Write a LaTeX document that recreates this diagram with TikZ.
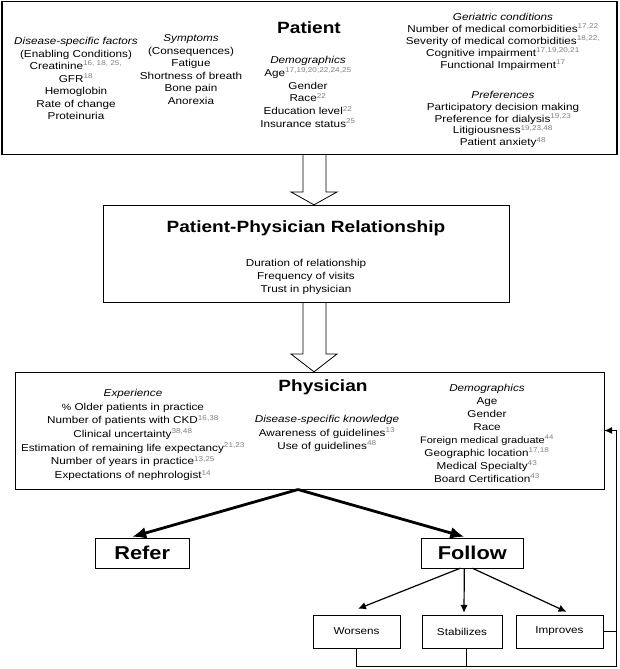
\documentclass[tikz,border=0pt]{standalone}
\usepackage{fontspec}
\setmainfont{Liberation Sans}[FakeStretch=1.17]
\usetikzlibrary{arrows.meta}
\usetikzlibrary{calc}
\tikzset{box/.style = {draw, rectangle, inner sep = 0}}
\tikzset{col/.style = {align = center, inner sep = 0, font = \fontsize{10}{#1}\selectfont},
         col/.default = 12.5}
\tikzset{title/.style = {inner sep = 0, font = \fontsize{16.3}{19}\selectfont\bfseries}}
\tikzset{hollow/.style = {line width = 0.8, line join = miter}}
\tikzset{fat/.style = {line width = 2.8, -{Latex[length=14pt, width=12pt]}}}
\tikzset{branch/.style = {line width = 1.2, -{Latex[length=8pt, width=7.5pt]}}}
\tikzset{back/.style = {line width = 1, -{Latex[length=8pt, width=7pt]}}}
\newcommand{\supref}[1]{\textsuperscript{\color{gray}#1}}

\begin{document}
\begin{tikzpicture}[x=1pt, y=-1pt]
  \useasboundingbox (0,0) rectangle (619,669);

  \node [box, line width=1.3, minimum width=615, minimum height=153] (patient) at (309.5,78) {};
  \node [title] (patienttitle) at (309,28) {Patient};
  \node [col] (factors) at (76,78.5) {\textit{Disease-specific factors}\\(Enabling Conditions)\\
    Creatinine\supref{16, 18, 25,}\\GFR\supref{18}\\Hemoglobin\\Rate of change\\Proteinuria};
  \node [col] (symptoms) at (191,69.5) {\textit{Symptoms}\\(Consequences)\\Fatigue\\
    Shortness of breath\\Bone pain\\Anorexia};
  \node [col=12.8] (patdemo) at (308,92) {\textit{Demographics}\\Age\supref{17,19,20,22,24,25}\\
    Gender\\Race\supref{22}\\Education level\supref{22}\\Insurance status\supref{25}};
  \node [col=12] (geriatric) at (503,42) {\textit{Geriatric conditions}\\
    Number of medical comorbidities\supref{17,22}\\Severity of medical comorbidities\supref{18,22,}\\
    Cognitive impairment\supref{17,19,20,21}\\Functional Impairment\supref{17}};
  \node [col=11.8] (preferences) at (503,119.5) {\textit{Preferences}\\Participatory decision making\\
    Preference for dialysis\supref{19,23}\\Litigiousness\supref{19,23,48}\\Patient anxiety\supref{48}};

  \node [box, minimum width=406, minimum height=97] (ppr) at (306,253.5) {};
  \node [title] (pprtitle) at (306,228) {Patient-Physician Relationship};
  \node [col=13] (pprlist) at (306,277) {Duration of relationship\\Frequency of visits\\Trust in physician};

  \node [box, minimum width=589, minimum height=117] (physician) at (309.5,430.5) {};
  \node [title] (phystitle) at (323,387) {Physician};
  \node [col=13.7] (experience) at (133,435) {\textit{Experience}\\{\small\%} Older patients in practice\\
    Number of patients with CKD\supref{16,38}\\Clinical uncertainty\supref{38,48}\\
    Estimation of remaining life expectancy\supref{21,23}\\Number of years in practice\supref{13,25}\\
    Expectations of nephrologist\supref{14}};
  \node [col=13.5] (knowledge) at (327,433.5) {\textit{Disease-specific knowledge}\\
    Awareness of guidelines\supref{13}\\Use of guidelines\supref{48}};
  \node [col=13] (physdemo) at (487,433.5) {\textit{Demographics}\\Age\\Gender\\Race\\
    {\fontsize{9.4}{13}\selectfont Foreign medical graduate\supref{44}}\\Geographic location\supref{17,18}\\
    Medical Specialty\supref{43}\\Board Certification\supref{43}};

  \draw [hollow] (patient.south -| 303,0) -- (303,192) -- (291,192) -- (ppr.north -| 314,0)
    -- (337,192) -- (326,192) -- (patient.south -| 326,0);
  \draw [hollow] (ppr.south -| 303,0) -- (303,354) -- (291,354) -- (physician.north -| 314,0)
    -- (337,354) -- (326,354) -- (ppr.south -| 326,0);

  \node [box, title, font=\fontsize{18.6}{20}\selectfont\bfseries, minimum width=94.5, minimum height=30]
    (refer) at (142.25,553) {Refer};
  \node [box, title, font=\fontsize{18.6}{20}\selectfont\bfseries, minimum width=101.4, minimum height=30]
    (follow) at (472.3,553) {Follow};
  \coordinate (split) at (298,489.5);
  \draw [fat] (split) -- ($(refer.north)+(-10,-1)$);
  \draw [fat] (split) -- ($(follow.north)+(-8,-1)$);

  \node [box, col, minimum width=87, minimum height=33] (worsens) at (356.5,631.5) {Worsens};
  \node [box, col, minimum width=80, minimum height=33] (stabilizes) at (462,631.5) {Stabilizes};
  \node [box, col, minimum width=87, minimum height=33] (improves) at (559.5,631.5) {Improves};
  \draw [branch] ($(follow.south)+(-12,0)$) -- ($(worsens.north)+(1.5,-6)$);
  \draw [branch] ($(follow.south)+(-8,0)$) -- ($(stabilizes.north)+(2,-2)$);
  \draw [branch] ($(follow.south)+(0,0)$) -- ($(improves.north)+(7,-3)$);

  \coordinate (loopbot) at (616,666.5);
  \coordinate (stabfoot) at ($(stabilizes.south)+(4,0)$);
  \draw [back] (worsens.south) |- (loopbot) -- (loopbot |- physician.east) -- (physician.east);
  \draw (stabfoot) -- (stabfoot |- loopbot);
  \draw (improves.east) -- (improves.east -| loopbot);
\end{tikzpicture}
\end{document}
